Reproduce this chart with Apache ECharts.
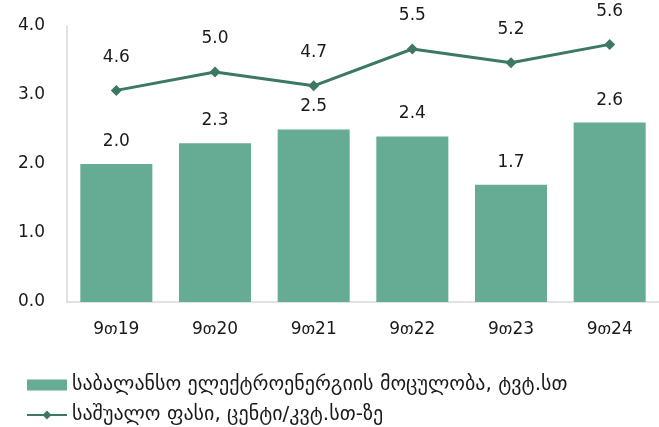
<!DOCTYPE html>
<html>
<head>
<meta charset="utf-8">
<script src="https://cdn.jsdelivr.net/npm/echarts@6/dist/echarts.min.js"></script>
<style>
  html, body { margin: 0; padding: 0; background: #fff; }
  #chart { width: 659px; height: 427px; }
</style>
</head>
<body>
<div id="chart"></div>
<script>
var categories = ['9თ19', '9თ20', '9თ21', '9თ22', '9თ23', '9თ24'];
var volumeValues = [2.0, 2.3, 2.5, 2.4, 1.7, 2.6];
var priceValues = [4.6, 5.0, 4.7, 5.5, 5.2, 5.6];
var seriesNames = ['საბალანსო ელექტროენერგიის მოცულობა, ტვტ.სთ', 'საშუალო ფასი, ცენტი/კვტ.სთ-ზე'];

var font = '"DejaVu Sans", sans-serif';
var myChart = echarts.init(document.getElementById('chart'));

function oneDecimal(p) {
    return p.value.toFixed(1);
}

var option = {
    animation: false,
    textStyle: { fontFamily: font },
    grid: { left: 67, right: -4, top: 26, bottom: 125 },
    legend: {
        orient: 'vertical',
        left: 26,
        top: 375,
        padding: 0,
        itemGap: 10,
        itemWidth: 40,
        itemHeight: 11,
        textStyle: { fontSize: 20, color: '#1a1a1a', fontFamily: font },
        data: [
            { name: seriesNames[0], icon: 'rect' },
            { name: seriesNames[1] }
        ]
    },
    xAxis: {
        type: 'category',
        data: categories,
        axisLine: { lineStyle: { color: '#d9d9d9', width: 1.5 } },
        axisTick: { show: false },
        axisLabel: { color: '#1a1a1a', fontSize: 17, margin: 19 }
    },
    yAxis: [
        {
            type: 'value',
            min: 0,
            max: 4,
            interval: 1,
            axisLine: { show: true, lineStyle: { color: '#d9d9d9', width: 1.5 } },
            axisTick: { show: false },
            splitLine: { show: false },
            axisLabel: {
                color: '#1a1a1a',
                fontSize: 17,
                margin: 22,
                formatter: function (v) { return v.toFixed(1); }
            }
        },
        {
            type: 'value',
            min: 0,
            max: 6,
            show: false,
            splitLine: { show: false }
        }
    ],
    series: [
        {
            name: seriesNames[0],
            type: 'bar',
            data: volumeValues,
            barCategoryGap: '27%',
            itemStyle: { color: '#66ab94' },
            label: {
                show: true,
                position: 'top',
                distance: 14,
                fontSize: 17,
                color: '#1a1a1a',
                formatter: oneDecimal
            }
        },
        {
            name: seriesNames[1],
            type: 'line',
            yAxisIndex: 1,
            data: priceValues,
            symbol: 'diamond',
            symbolSize: 11,
            lineStyle: { color: '#3d7862', width: 3 },
            itemStyle: { color: '#3d7862' },
            label: {
                show: true,
                position: 'top',
                distance: 19,
                fontSize: 17,
                color: '#1a1a1a',
                formatter: oneDecimal
            }
        }
    ]
};

myChart.setOption(option);
</script>
</body>
</html>
